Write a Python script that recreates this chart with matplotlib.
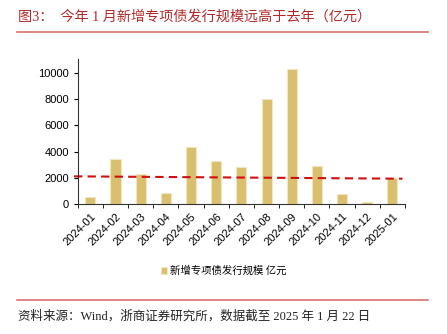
import numpy as np
import matplotlib
matplotlib.use('Agg')
import matplotlib.pyplot as plt

plt.rcParams['font.family'] = ['Liberation Sans', 'Noto Sans CJK SC', 'DejaVu Sans']

months = ['2024-01', '2024-02', '2024-03', '2024-04', '2024-05', '2024-06',
          '2024-07', '2024-08', '2024-09', '2024-10', '2024-11', '2024-12',
          '2025-01']
issuance = [560, 3440, 2280, 840, 4380, 3310, 2810, 7980, 10280, 2930,
            810, 150, 2020]
trend_ends = [2130, 1950]

title = '图3：  今年 1 月新增专项债发行规模远高于去年（亿元）'
legend_label = '新增专项债发行规模 亿元'
source = '资料来源：Wind，浙商证券研究所，数据截至 2025 年 1 月 22 日'

bar_color = '#D9BF6E'
cjk = ['Noto Sans CJK SC', 'DejaVu Sans']
serif_cjk = ['Liberation Serif', 'Noto Sans CJK SC']

fig = plt.figure(figsize=(4.47, 3.34), dpi=100)
ax = fig.add_axes([0.174, 0.388, 0.732, 0.434])

x = np.arange(len(months))
ax.bar(x, issuance, width=0.4, color=bar_color, edgecolor='#F2E6C0',
       linewidth=0.8, label=legend_label)
ax.plot([-0.65, len(months) - 0.6], trend_ends, color='#D01010',
        linestyle=(0, (4, 2.5)), linewidth=1.5, clip_on=False)

ax.set_xlim(-0.5, len(months) - 0.5)
ax.set_ylim(0, 11000)
ax.set_yticks(range(0, 10001, 2000))
ax.set_xticks(x)
ax.set_xticklabels(months, rotation=45, ha='right', rotation_mode='anchor',
                   fontsize=8)
ax.set_xticks(np.arange(-0.5, len(months)), minor=True)
ax.tick_params(axis='x', which='major', length=0, pad=5)
ax.tick_params(axis='x', which='minor', length=3, direction='out')
ax.tick_params(axis='y', labelsize=8, length=3, direction='out')
for s in ['top', 'right']:
    ax.spines[s].set_visible(False)
for s in ['left', 'bottom']:
    ax.spines[s].set_color('#333333')
    ax.spines[s].set_linewidth(0.8)

leg = fig.legend(loc='center', bbox_to_anchor=(0.5, 0.189), frameon=False,
                 handlelength=0.55, handleheight=0.55, handletextpad=0.3,
                 prop={'family': cjk, 'size': 7.5})

fig.text(0.04, 0.949, title, family=serif_cjk, fontsize=10.2,
         color='#B22A2A', va='center')
fig.add_artist(plt.Line2D([0.038, 0.958], [0.903, 0.903], color='#D9706E',
                          linewidth=1.2, transform=fig.transFigure))
fig.add_artist(plt.Line2D([0.038, 0.958], [0.101, 0.101], color='#D9706E',
                          linewidth=1.2, transform=fig.transFigure))
fig.text(0.04, 0.052, source, family=serif_cjk, fontsize=9, color='#222222',
         va='center')

fig.savefig('out.png', dpi=100)
